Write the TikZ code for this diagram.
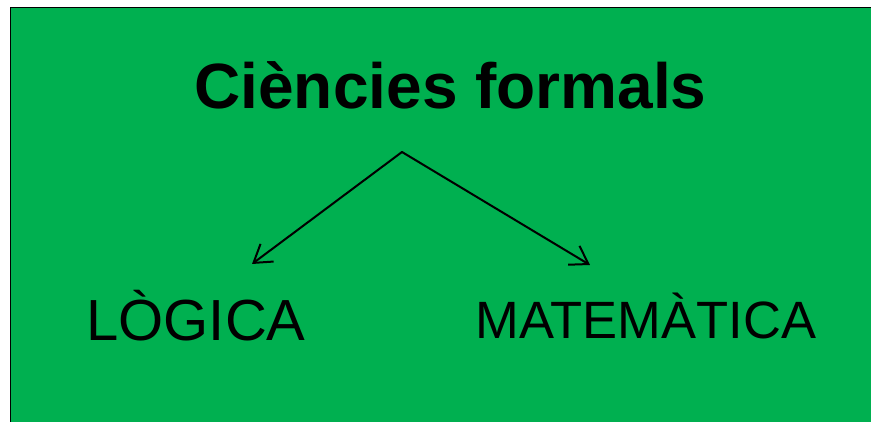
\documentclass[tikz,border=0pt]{standalone}
\usepackage{fontspec}
\setmainfont{Liberation Sans}
\usetikzlibrary{arrows.meta}
\definecolor{verd}{RGB}{0,176,80}

\begin{document}
\begin{tikzpicture}[x=1pt,y=-1pt,
	fletxa/.style={line width=2pt, line cap=round, -{Straight Barb[length=17pt,width=22pt,line width=2pt]}},
	rotul/.style={anchor=base, inner sep=0pt}]
	\useasboundingbox (0,0) rectangle (871,422);
	\fill[white] (0,0) rectangle (871,422);
	\fill[verd] (10,8) rectangle (871,422);
	\draw[line width=1pt] (10,422) -- (10,8) -- (871,8);
	\node[rotul] (titol) at (450.5,109) {\fontsize{64}{70}\selectfont\bfseries Ciències formals};
	\node[rotul] (logica) at (196,341) {\fontsize{58}{64}\selectfont LÒGICA};
	\node[rotul] (mates) at (646,338) {\fontsize{52.5}{58}\selectfont MATEMÀTICA};
	\coordinate (vertex) at (402,152);
	\coordinate (esq) at (252,264);
	\coordinate (dre) at (590,265);
	\draw[fletxa] (vertex) -- (esq);
	\draw[fletxa] (vertex) -- (dre);
\end{tikzpicture}
\end{document}
